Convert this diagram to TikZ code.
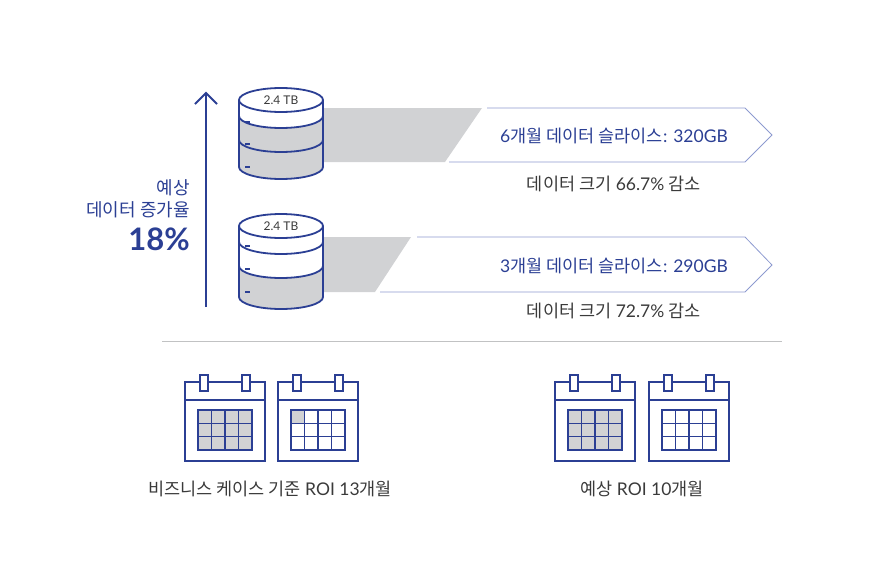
\documentclass[tikz,border=0pt]{standalone}
\usepackage{fontspec}
\setmainfont{Lato}
\newfontfamily\kr{Noto Sans CJK KR}
\definecolor{navy}{HTML}{2B3F94}
\definecolor{lgray}{HTML}{D1D2D4}
\definecolor{txt}{HTML}{3A3A3A}
\definecolor{lnav}{HTML}{8D9AD0}
\begin{document}
\begin{tikzpicture}[x=1pt,y=-1pt,
  dbl/.style={draw=navy,line width=1.8pt},
  cal/.style={draw=navy,line width=1.5pt},
  lbl/.style={text=txt,font=\fontsize{17.5}{20}\selectfont,inner sep=0},
  blu/.style={text=navy,font=\fontsize{17.5}{20}\selectfont,inner sep=0}]
\useasboundingbox (0,0) rectangle (886,584);
% gray slices
\fill[lgray] (323,108) -- (482,108) -- (445,162) -- (323,162) -- cycle;
\fill[lgray] (323,237) -- (411,237) -- (375,292) -- (323,292) -- cycle;
% arrow outlines
\draw[lnav,line width=0.8pt] (487,108) -- (745,108) -- (772,135) -- (745,162) -- (449,162);
\draw[lnav,line width=0.8pt] (417,237) -- (745,237) -- (772,265) -- (745,292) -- (380,292);
\tikzset{ea/.style={x radius=42,y radius=12}}
\newcommand{\band}[3]{\fill[#3] (239,#1) arc[start angle=180,end angle=0,ea] -- (323,#2) arc[start angle=0,end angle=180,ea] -- cycle;}
\newcommand{\sep}[1]{\draw[dbl] (239,#1) arc[start angle=180,end angle=0,ea];}
\newcommand{\body}[2]{%
  \draw[dbl] (239,#1) -- (239,#2) arc[start angle=180,end angle=0,ea] -- (323,#1);
  \draw[dbl,fill=white] (281,#1) ellipse[ea];}
\newcommand{\dash}[1]{\fill[navy] (245,#1) rectangle (250,#1+2.2);}
% db 1
\band{116}{140}{lgray}\band{140}{167}{lgray}
\body{100}{167}\sep{116}\sep{140}
\dash{121}\dash{143}\dash{166}
% db 2
\band{266}{297}{lgray}
\body{226}{297}\sep{242}\sep{266}
\dash{245}\dash{268}\dash{291}
\node[text=txt,font=\fontsize{12}{14}\selectfont,inner sep=0] (t1) at (281,100) {2.4 TB};
\node[text=txt,font=\fontsize{12}{14}\selectfont,inner sep=0] (t2) at (281,226) {2.4 TB};
% vertical arrow
\coordinate (va) at (206,307); \coordinate (vb) at (206,93);
\draw[navy,line width=2pt] (va) -- (vb);
\draw[navy,line width=2pt,line join=miter] (195,104) -- (vb) -- (217,104);
\node[blu,anchor=east,font=\fontsize{18}{20}\selectfont] (l1) at (190,188) {\kr 예상};
\node[blu,anchor=east,font=\fontsize{18}{20}\selectfont] (l2) at (190,210) {\kr 데이터 증가율};
\node[text=navy,font=\bfseries\fontsize{31}{34}\selectfont,inner sep=0,anchor=east] (l3) at (190,239) {18\%};
% texts
\node[blu] (a1) at (614,136) {6{\kr 개월 데이터 슬라이스}: 320GB};
\node[lbl] (b1) at (614,184) {{\kr 데이터 크기} 66.7\% {\kr 감소}};
\node[blu] (a2) at (614,266) {3{\kr 개월 데이터 슬라이스}: 290GB};
\node[lbl] (b2) at (614,311) {{\kr 데이터 크기} 72.7\% {\kr 감소}};
\draw[lgray!80!gray,line width=0.8pt] (162,341) -- (782,341);
% calendars
\newcommand{\mycal}[2]{%
 \begin{scope}[shift={(#1,0)}]
  \draw[cal,fill=white] (0,382) rectangle (80,461);
  \draw[cal] (0,400) -- (80,400);
  \draw[cal,fill=white] (15,375) rectangle (23,391);
  \draw[cal,fill=white] (57,375) rectangle (65,391);
  \ifnum#2=12 \fill[lgray] (13,410) rectangle (67,450);\fi
  \ifnum#2=1 \fill[lgray] (13,410) rectangle (26.5,423.3);\fi
  \draw[cal] (26.5,410) -- (26.5,450) (40,410) -- (40,450) (53.5,410) -- (53.5,450)
    (13,423.3) -- (67,423.3) (13,436.7) -- (67,436.7);
  \draw[cal] (13,410) rectangle (67,450);
 \end{scope}}
\mycal{185}{12}
\mycal{278}{1}
\mycal{555}{12}
\mycal{649}{0}
\node[lbl] (c1) at (270,489) {{\kr 비즈니스 케이스 기준} ROI 13{\kr 개월}};
\node[lbl] (c2) at (642,489) {{\kr 예상} ROI 10{\kr 개월}};
\end{tikzpicture}
\end{document}
